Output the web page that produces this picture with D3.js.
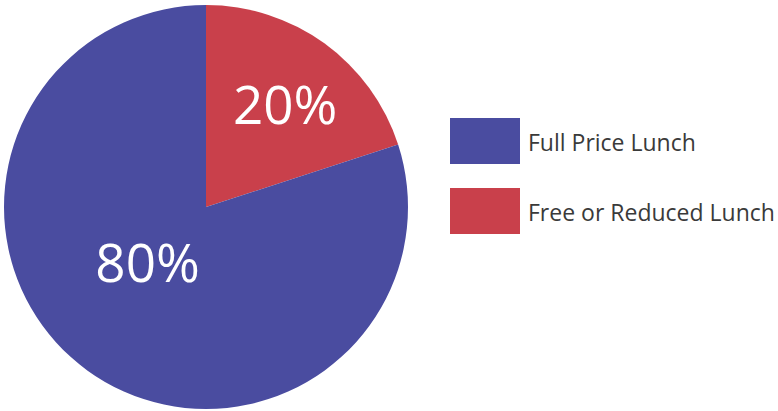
<!DOCTYPE html>
<html>
<head>
<meta charset="utf-8">
<script src="https://cdn.jsdelivr.net/npm/d3@7"></script>
<style>
  html, body { margin: 0; padding: 0; background: #fff; }
  svg { display: block; }
</style>
</head>
<body>
<svg id="chart" width="778" height="411"></svg>
<script>
// Lunch status share of students
const categories = ["Free or Reduced Lunch", "Full Price Lunch"];
const values = [20, 80];
const colors = ["#c9404b", "#4a4ca0"];
const legendOrder = ["Full Price Lunch", "Free or Reduced Lunch"];

const svg = d3.select("#chart");
const cx = 206, cy = 207, r = 202;

const color = d3.scaleOrdinal().domain(categories).range(colors);

const pie = d3.pie().sort(null).value(d => d.value);
const arcs = pie(categories.map((c, i) => ({ name: c, value: values[i] })));
const arc = d3.arc().innerRadius(0).outerRadius(r);

const g = svg.append("g").attr("transform", `translate(${cx},${cy})`);
g.selectAll("path").data(arcs).join("path")
  .attr("d", arc)
  .attr("fill", d => color(d.data.name));

// value labels inside slices: radius as a share of r, plus a small angular nudge
const labelPlace = {
  "Free or Reduced Lunch": { k: 0.64, shift: 0.03 },
  "Full Price Lunch": { k: 0.40, shift: 0.18 }
};
g.selectAll("text.val").data(arcs).join("text")
  .attr("class", "val")
  .attr("transform", d => {
    const p = labelPlace[d.data.name];
    const a = (d.startAngle + d.endAngle) / 2 + p.shift;
    const [x, y] = d3.pointRadial(a, r * p.k);
    return `translate(${x},${y})`;
  })
  .attr("text-anchor", "middle")
  .attr("dy", "0.36em")
  .attr("fill", "#fff")
  .style("font-family", "'Open Sans', sans-serif")
  .style("font-size", "53px")
  .text(d => d.data.value + "%");

// legend
const legend = svg.append("g").attr("transform", "translate(450,118)");
const items = legend.selectAll("g").data(legendOrder).join("g")
  .attr("transform", (d, i) => `translate(0,${i * 70})`);
items.append("rect")
  .attr("width", 70).attr("height", 46)
  .attr("fill", d => color(d));
items.append("text")
  .attr("x", 78).attr("y", 33)
  .attr("fill", "#3a3a3a")
  .style("font-family", "'Open Sans', sans-serif")
  .style("font-size", "23px")
  .text(d => d);
</script>
</body>
</html>
